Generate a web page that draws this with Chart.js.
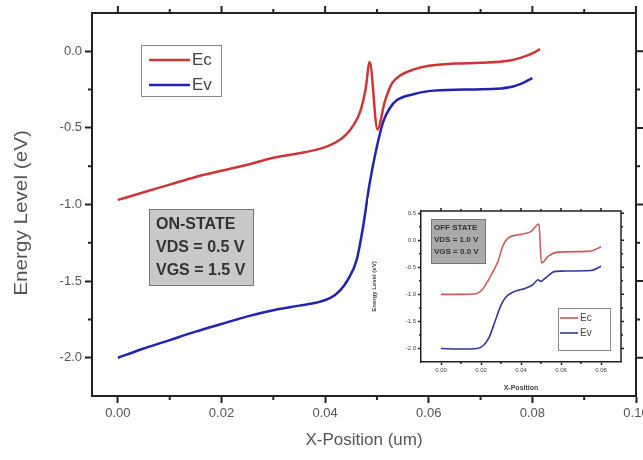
<!DOCTYPE html>
<html>
<head>
<meta charset="utf-8">
<script src="https://cdn.jsdelivr.net/npm/chart.js@4.4.1/dist/chart.umd.min.js"></script>
<style>
html, body { margin: 0; padding: 0; overflow: hidden; background: #fff; }
#wrap { position: relative; width: 643px; height: 460px; overflow: hidden; }
#main { position: absolute; left: 0; top: 0; }
#inset { position: absolute; left: 368px; top: 198px; background: #fff; }
</style>
</head>
<body>
<div id="wrap">
  <canvas id="main" width="660" height="460"></canvas>
  <canvas id="inset" width="262" height="196"></canvas>
</div>
<script>
// ON-STATE 밴드 (본 그래프)
const ecX = [0, 0.005, 0.01, 0.015, 0.02, 0.025, 0.03, 0.035, 0.038, 0.04, 0.042, 0.044, 0.0455, 0.0468, 0.0478, 0.0486,
             0.0501, 0.0515, 0.0529, 0.0544, 0.057, 0.060, 0.065, 0.070, 0.0757, 0.078, 0.0805, 0.0815];
const ecY = [-0.97, -0.92, -0.87, -0.82, -0.78, -0.74, -0.695, -0.665, -0.645, -0.625, -0.595, -0.545, -0.48, -0.39, -0.25, -0.07,
             -0.51, -0.33, -0.21, -0.16, -0.12, -0.095, -0.08, -0.075, -0.06, -0.04, -0.005, 0.015];
const evX = [0, 0.005, 0.01, 0.015, 0.02, 0.025, 0.03, 0.035, 0.0384, 0.041, 0.0429, 0.0444, 0.0461, 0.0473, 0.0486,
             0.050, 0.0512, 0.0525, 0.0538, 0.057, 0.060, 0.0667, 0.073, 0.0763, 0.078, 0.080];
const evY = [-2.0, -1.94, -1.885, -1.83, -1.78, -1.73, -1.69, -1.66, -1.64, -1.61, -1.56, -1.49, -1.36, -1.15, -0.86,
             -0.62, -0.46, -0.37, -0.32, -0.28, -0.26, -0.25, -0.245, -0.23, -0.21, -0.175];

// OFF-STATE 밴드 (삽입 그래프)
const offEcX = [0, 0.01, 0.0175, 0.0205, 0.0235, 0.026, 0.0285, 0.031, 0.0335, 0.0385, 0.045, 0.049,
                0.0502, 0.0512, 0.0535, 0.0585, 0.07, 0.075, 0.08];
const offEcY = [-1.0, -1.0, -0.99, -0.92, -0.75, -0.58, -0.39, -0.1, 0.04, 0.1, 0.16, 0.3,
                -0.42, -0.4, -0.3, -0.22, -0.21, -0.2, -0.12];
const offEvX = [0, 0.01, 0.018, 0.021, 0.024, 0.027, 0.03, 0.0325, 0.0365, 0.042, 0.046, 0.0485,
                0.05, 0.0515, 0.0535, 0.0565, 0.06, 0.075, 0.08];
const offEvY = [-2.0, -2.01, -2.0, -1.95, -1.8, -1.5, -1.2, -1.05, -0.95, -0.89, -0.82, -0.73,
                -0.76, -0.72, -0.66, -0.58, -0.57, -0.56, -0.48];

// 눈금
const xTicks = [0, 0.02, 0.04, 0.06, 0.08, 0.10];
const yTicks = [-2.0, -1.5, -1.0, -0.5, 0.0];
const insetXTicks = [0, 0.02, 0.04, 0.06, 0.08];
const insetYTicks = [-2.0, -1.5, -1.0, -0.5, 0.0, 0.5];

const seriesNames = ['Ec', 'Ev'];
const yTitle = 'Energy Level (eV)';
const onStateText = ['ON-STATE', 'VDS = 0.5 V', 'VGS = 1.5 V'];
const offStateText = ['OFF STATE', 'VDS = 1.0 V', 'VGS = 0.0 V'];

const FONT = "'Liberation Sans', Arial, sans-serif";
Chart.defaults.font.family = FONT;

const toPoints = (xs, ys) => xs.map((v, i) => ({ x: v, y: ys[i] }));
const useTicks = list => scale => { scale.ticks = list.map(v => ({ value: v })); };

// 위/오른쪽 테두리와 보조 눈금
function drawFrame(chart, o) {
    const { ctx, chartArea: a, scales: { x, y } } = chart;
    ctx.save();
    ctx.strokeStyle = '#222';
    ctx.lineWidth = o.lw;
    ctx.beginPath();
    ctx.moveTo(a.left, a.top);
    ctx.lineTo(a.right, a.top);
    ctx.lineTo(a.right, a.bottom);
    ctx.stroke();

    ctx.beginPath();
    o.xt.forEach(v => {
        const px = x.getPixelForValue(v);
        ctx.moveTo(px, a.top);
        ctx.lineTo(px, a.top - o.major);
    });
    o.yt.forEach(v => {
        const py = y.getPixelForValue(v);
        ctx.moveTo(a.right, py);
        ctx.lineTo(a.right + o.major, py);
    });
    for (let i = 0; i < o.xt.length - 1; i++) {
        const px = x.getPixelForValue((o.xt[i] + o.xt[i + 1]) / 2);
        ctx.moveTo(px, a.bottom); ctx.lineTo(px, a.bottom + o.minor);
        ctx.moveTo(px, a.top); ctx.lineTo(px, a.top - o.minor);
    }
    for (let i = 0; i < o.yt.length - 1; i++) {
        const py = y.getPixelForValue((o.yt[i] + o.yt[i + 1]) / 2);
        ctx.moveTo(a.left, py); ctx.lineTo(a.left - o.minor, py);
        ctx.moveTo(a.right, py); ctx.lineTo(a.right + o.minor, py);
    }
    ctx.stroke();
    ctx.restore();
}

function drawLegend(chart, box, lineStart, lineLen, fontSize, rowGap, lw) {
    const ctx = chart.ctx;
    ctx.save();
    ctx.fillStyle = '#fff';
    ctx.strokeStyle = '#888';
    ctx.lineWidth = 1;
    ctx.fillRect(box.x, box.y, box.w, box.h);
    ctx.strokeRect(box.x + 0.5, box.y + 0.5, box.w, box.h);
    ctx.font = fontSize + 'px ' + FONT;
    ctx.textBaseline = 'middle';
    chart.data.datasets.forEach((ds, i) => {
        const yy = box.y + box.pad + i * rowGap;
        ctx.strokeStyle = ds.borderColor;
        ctx.lineWidth = lw;
        ctx.beginPath();
        ctx.moveTo(box.x + lineStart, yy);
        ctx.lineTo(box.x + lineStart + lineLen, yy);
        ctx.stroke();
        ctx.fillStyle = '#444';
        ctx.fillText(ds.label, box.x + lineStart + lineLen + 2, yy);
    });
    ctx.restore();
}

function drawStateBox(ctx, box, lines, fontSize, rowGap, fill) {
    ctx.save();
    ctx.fillStyle = fill;
    ctx.strokeStyle = '#777';
    ctx.lineWidth = 1;
    ctx.fillRect(box.x, box.y, box.w, box.h);
    ctx.strokeRect(box.x + 0.5, box.y + 0.5, box.w, box.h);
    ctx.fillStyle = '#333';
    ctx.font = 'bold ' + fontSize + 'px ' + FONT;
    ctx.textBaseline = 'middle';
    lines.forEach((t, i) => ctx.fillText(t, box.x + box.indent, box.y + box.pad + i * rowGap));
    ctx.restore();
}

// 본 그래프
new Chart(document.getElementById('main'), {
    type: 'scatter',
    data: {
        datasets: [
            { label: seriesNames[0], data: toPoints(ecX, ecY), borderColor: '#cf3535', borderWidth: 2.5 },
            { label: seriesNames[1], data: toPoints(evX, evY), borderColor: '#2323b3', borderWidth: 2.5 }
        ].map(d => Object.assign(d, { showLine: true, pointRadius: 0, cubicInterpolationMode: 'monotone' }))
    },
    options: {
        responsive: false,
        animation: false,
        layout: { padding: { left: 0, top: 13, right: 24, bottom: 0 } },
        plugins: { legend: { display: false }, tooltip: { enabled: false } },
        scales: {
            x: {
                type: 'linear', min: -0.005, max: 0.10,
                afterBuildTicks: useTicks(xTicks),
                afterFit: s => { s.height = 64; },
                ticks: { callback: v => v.toFixed(2), color: '#555', font: { size: 13 }, padding: 3, maxRotation: 0, autoSkip: false },
                grid: { drawOnChartArea: false, tickLength: 7, tickColor: '#222', tickWidth: 2 },
                border: { color: '#222', width: 2 },
                title: { display: true, text: 'X-Position (um)', color: '#555', font: { size: 17 }, padding: { top: 0, bottom: 9 } }
            },
            y: {
                type: 'linear', min: -2.25, max: 0.25,
                afterBuildTicks: useTicks(yTicks),
                afterFit: s => { s.width = 92; },
                ticks: { callback: v => v.toFixed(1), color: '#555', font: { size: 13 }, padding: 3, autoSkip: false },
                grid: { drawOnChartArea: false, tickLength: 7, tickColor: '#222', tickWidth: 2 },
                border: { color: '#222', width: 2 },
                title: { display: false }
            }
        }
    },
    plugins: [{
        id: 'mainDecor',
        afterDraw(chart) {
            const ctx = chart.ctx;
            drawFrame(chart, { xt: xTicks, yt: yTicks, lw: 2, major: 7, minor: 4 });
            drawLegend(chart, { x: 141, y: 45, w: 80, h: 51, pad: 15 }, 8, 41, 17, 25, 2.5);
            drawStateBox(ctx, { x: 149, y: 209, w: 104, h: 76, pad: 16, indent: 7 }, onStateText, 16, 23, '#c8c8c8');

            // 세로축 제목 (원본 그림이 세로로 약간 늘어나 있음)
            ctx.save();
            ctx.translate(22, 213);
            ctx.rotate(-Math.PI / 2);
            ctx.scale(1.15, 1);
            ctx.font = '18px ' + FONT;
            ctx.fillStyle = '#555';
            ctx.textAlign = 'center';
            ctx.textBaseline = 'middle';
            ctx.fillText(yTitle, 0, 0);
            ctx.restore();
        }
    }]
});

// 삽입 그래프 (OFF-STATE)
const smallTick = { size: 6 };
new Chart(document.getElementById('inset'), {
    type: 'scatter',
    data: {
        datasets: [
            { label: seriesNames[0], data: toPoints(offEcX, offEcY), borderColor: '#cc5c5c' },
            { label: seriesNames[1], data: toPoints(offEvX, offEvY), borderColor: '#36369a' }
        ].map(d => Object.assign(d, { showLine: true, pointRadius: 0, borderWidth: 1.6, cubicInterpolationMode: 'monotone' }))
    },
    options: {
        responsive: false,
        animation: false,
        layout: { padding: { left: 0, top: 13, right: 9, bottom: 0 } },
        plugins: { legend: { display: false }, tooltip: { enabled: false } },
        scales: {
            x: {
                type: 'linear', min: -0.01, max: 0.09,
                afterBuildTicks: useTicks(insetXTicks),
                afterFit: s => { s.height = 32; },
                ticks: { callback: v => v.toFixed(2), color: '#444', font: smallTick, padding: 2, maxRotation: 0, autoSkip: false },
                grid: { drawOnChartArea: false, tickLength: 3, tickColor: '#222', tickWidth: 1.5 },
                border: { color: '#222', width: 1.5 },
                title: { display: true, text: 'X-Position', color: '#444', font: { size: 7, weight: 'bold' }, padding: { top: 0, bottom: 2 } }
            },
            y: {
                type: 'linear', min: -2.25, max: 0.54,
                afterBuildTicks: useTicks(insetYTicks),
                afterFit: s => { s.width = 53; },
                ticks: { callback: v => v.toFixed(1), color: '#444', font: smallTick, padding: 2, autoSkip: false },
                grid: { drawOnChartArea: false, tickLength: 3, tickColor: '#222', tickWidth: 1.5 },
                border: { color: '#222', width: 1.5 },
                title: { display: true, text: yTitle, color: '#444', font: { size: 6, weight: 'bold' }, padding: { top: 3, bottom: 0 } }
            }
        }
    },
    plugins: [{
        id: 'insetDecor',
        afterDraw(chart) {
            drawFrame(chart, { xt: insetXTicks, yt: insetYTicks, lw: 1.5, major: 3, minor: 2 });
            drawLegend(chart, { x: 190, y: 110, w: 52, h: 42, pad: 10 }, 2, 18, 10, 15, 1.6);
            drawStateBox(chart.ctx, { x: 63, y: 21, w: 54, h: 44, pad: 9, indent: 3 }, offStateText, 8, 12, '#aaaaaa');
        }
    }]
});
</script>
</body>
</html>
